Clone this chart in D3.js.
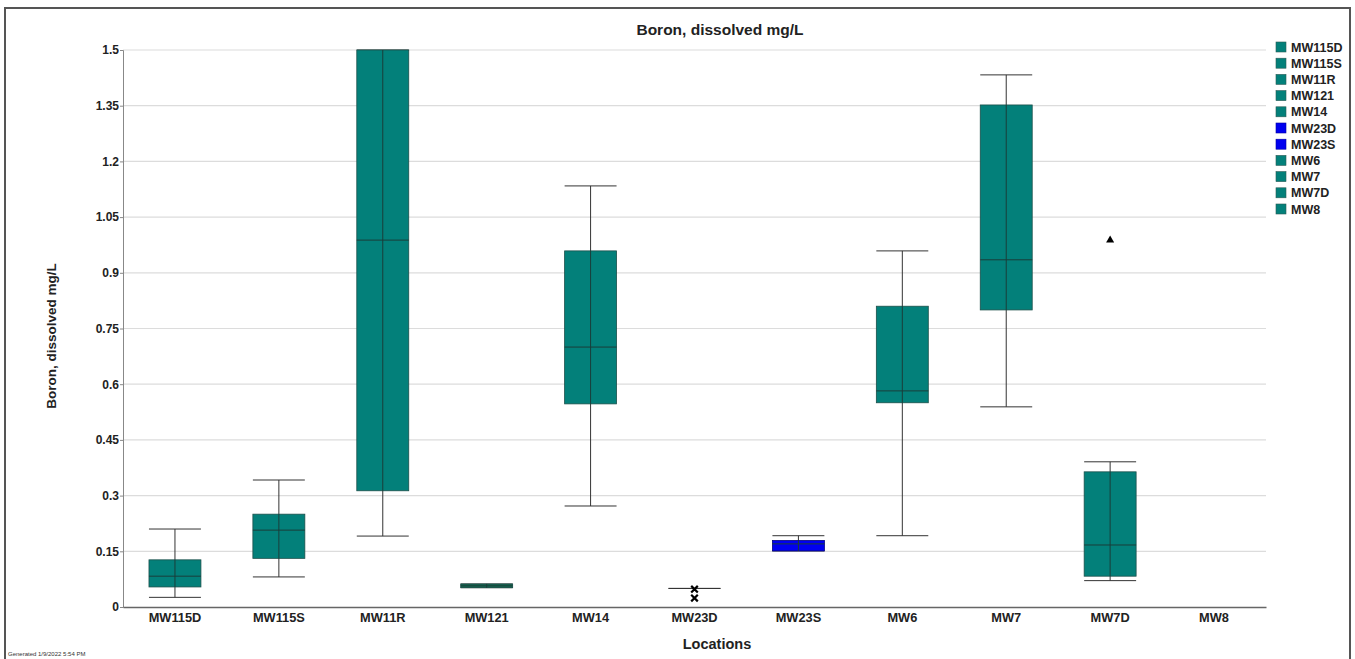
<!DOCTYPE html>
<html><head><meta charset="utf-8">
<script src="https://cdn.jsdelivr.net/npm/d3@7"></script>
<style>
body{margin:0;background:#fff;}
text{font-family:"Liberation Sans",Arial,sans-serif;}
</style></head>
<body>
<svg id="chart" width="1355" height="659"></svg>
<script>
const locations = ["MW115D","MW115S","MW11R","MW121","MW14","MW23D","MW23S","MW6","MW7","MW7D","MW8"];
const whiskerLow  = [0.026,0.081,0.191,0.052,0.272,0.050,0.151,0.192,0.539,0.071,null];
const q1          = [0.054,0.131,0.313,0.052,0.547,0.050,0.151,0.550,0.800,0.083,null];
const median      = [0.083,0.207,0.988,0.057,0.700,0.050,0.170,0.582,0.935,0.167,null];
const q3          = [0.127,0.250,1.500,0.062,0.959,0.050,0.179,0.810,1.352,0.364,null];
const whiskerHigh = [0.210,0.342,1.500,0.062,1.134,0.050,0.192,0.959,1.433,0.391,null];
const seriesColor = ["teal","teal","teal","teal","teal","blue","blue","teal","teal","teal","teal"];
const xOutliers = [{loc:"MW23D", v:0.048},{loc:"MW23D", v:0.024}];
const triOutliers = [{loc:"MW7D", v:0.988}];
const yTicks = [0,0.15,0.3,0.45,0.6,0.75,0.9,1.05,1.2,1.35,1.5];
const yTickLabels = ["0","0.15","0.3","0.45","0.6","0.75","0.9","1.05","1.2","1.35","1.5"];

(function(){
const colors = {teal:"#03807a", blue:"#0000f0"};
const svg = d3.select("#chart");
const pL=123, pR=1266, pT=50, pB=607;

svg.append("rect").attr("x",5).attr("y",8).attr("width",1345).attr("height",660)
  .attr("fill","none").attr("stroke","#555").attr("stroke-width",2);

const x = d3.scaleBand().domain(locations).range([pL,pR]).padding(0);
const y = d3.scaleLinear().domain([0,1.5]).range([pB,pT]);

svg.append("g").selectAll("line").data(yTicks.filter(d=>d>0)).join("line")
  .attr("x1",pL).attr("x2",pR).attr("y1",d=>y(d)).attr("y2",d=>y(d))
  .attr("stroke","#dcdcdc").attr("stroke-width",1.2);

const yAxis = d3.axisLeft(y).tickValues(yTicks).tickFormat((d,i)=>yTickLabels[i]).tickSize(3);
const gy = svg.append("g").attr("transform",`translate(${pL},0)`).call(yAxis);
gy.select(".domain").attr("stroke","#888");
gy.selectAll(".tick line").attr("stroke","#888");
gy.selectAll("text").attr("font-size",12).attr("font-weight","bold").attr("fill","#222").attr("x",-4);

const xAxis = d3.axisBottom(x).tickSize(0);
const gx = svg.append("g").attr("transform",`translate(0,${pB})`).call(xAxis);
gx.select(".domain").attr("stroke","#666").attr("stroke-width",1.3);
gx.selectAll("text").attr("font-size",12.8).attr("font-weight","bold").attr("fill","#222").attr("dy","0.9em");

const bw = x.bandwidth()*0.5;
const data = locations.map((loc,i)=>({loc,lo:whiskerLow[i],q1:q1[i],med:median[i],q3:q3[i],hi:whiskerHigh[i],c:seriesColor[i]})).filter(d=>d.q1!==null);
const g = svg.append("g");
data.forEach(d=>{
  const cx = x(d.loc)+x.bandwidth()/2;
  const gg = g.append("g");
  gg.append("line").attr("x1",cx).attr("x2",cx).attr("y1",y(d.lo)).attr("y2",y(d.hi)).attr("stroke","#333").attr("stroke-width",1);
  [d.lo,d.hi].forEach(v=>gg.append("line").attr("x1",cx-bw/2).attr("x2",cx+bw/2).attr("y1",y(v)).attr("y2",y(v)).attr("stroke","#333").attr("stroke-width",1));
  const h = Math.max(y(d.q1)-y(d.q3),0);
  if(h>0){
    const fill = d.loc==="MW121" ? "#14694f" : colors[d.c];
    gg.append("rect").attr("x",cx-bw/2).attr("y",y(d.q3)).attr("width",bw).attr("height",h)
      .attr("fill",fill).attr("stroke",d.c==="blue"?"#000080":"#1c4f4a").attr("stroke-width",0.8);
    gg.append("line").attr("x1",cx).attr("x2",cx).attr("y1",y(d.q3)).attr("y2",y(d.q1)).attr("stroke","#1a3d3a").attr("stroke-width",1);
    gg.append("line").attr("x1",cx-bw/2).attr("x2",cx+bw/2).attr("y1",y(d.med)).attr("y2",y(d.med)).attr("stroke","#1a3d3a").attr("stroke-width",1);
  }
});

const cross = d3.symbol().type(d3.symbolX).size(30);
svg.append("g").selectAll("path").data(xOutliers).join("path")
  .attr("d",cross).attr("transform",d=>`translate(${x(d.loc)+x.bandwidth()/2},${y(d.v)})`)
  .attr("stroke","#000").attr("stroke-width",2.2).attr("fill","none");
const tri = d3.symbol().type(d3.symbolTriangle).size(28);
svg.append("g").selectAll("path").data(triOutliers).join("path")
  .attr("d",tri).attr("transform",d=>`translate(${x(d.loc)+x.bandwidth()/2},${y(d.v)})`)
  .attr("fill","#000");

svg.append("text").attr("x",720).attr("y",35).attr("text-anchor","middle").attr("font-size",15.5).attr("font-weight","bold").attr("fill","#222").text("Boron, dissolved mg/L");
svg.append("text").attr("transform","translate(56,336) rotate(-90)").attr("text-anchor","middle").attr("font-size",13.5).attr("font-weight","bold").attr("fill","#222").text("Boron, dissolved mg/L");
svg.append("text").attr("x",717).attr("y",649).attr("text-anchor","middle").attr("font-size",14.5).attr("font-weight","bold").attr("fill","#222").text("Locations");
svg.append("text").attr("x",8).attr("y",656).attr("font-size",6).attr("fill","#333").text("Generated 1/9/2022 5:54 PM");

const lg = svg.append("g").attr("transform","translate(1276,44)");
locations.forEach((loc,i)=>{
  const row = lg.append("g").attr("transform",`translate(0,${i*16.2})`);
  row.append("rect").attr("x",0).attr("y",-2).attr("width",10).attr("height",10)
    .attr("fill",colors[seriesColor[i]]).attr("stroke",seriesColor[i]==="blue"?"#0000a0":"#2a5a55").attr("stroke-width",0.6);
  row.append("text").attr("x",15).attr("y",7.5).attr("font-size",12.5).attr("font-weight","bold").attr("fill","#222").text(loc);
});
})();
</script>
</body></html>
